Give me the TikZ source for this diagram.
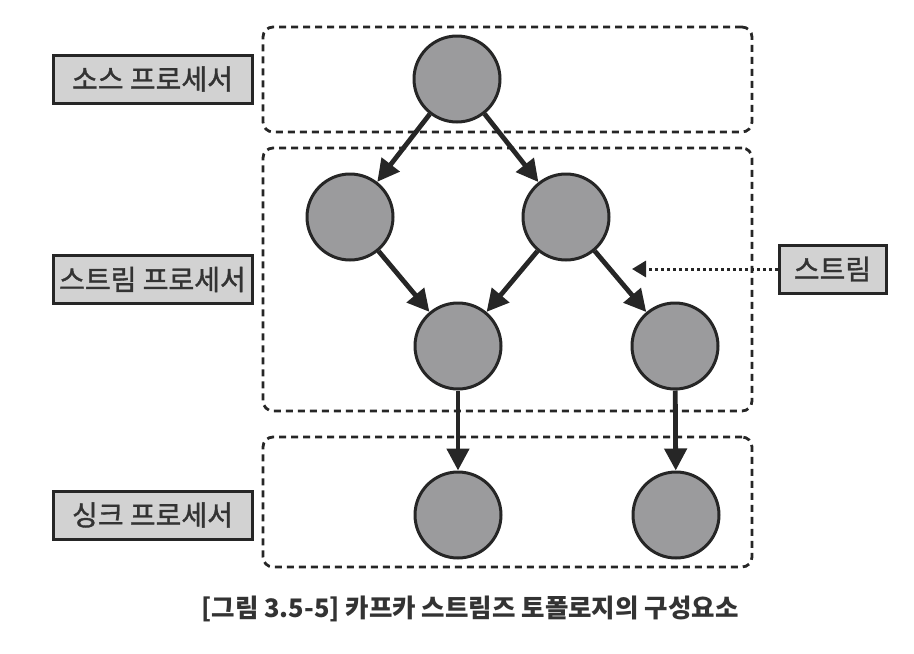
\documentclass[tikz,border=0pt]{standalone}
\usepackage{fontspec}
\setmainfont{Noto Sans CJK KR}
\newfontfamily\krmed{Noto Sans CJK KR}[FakeBold=1.3]
\usetikzlibrary{arrows.meta}
\definecolor{nodefill}{HTML}{9B9B9D}
\definecolor{labfill}{HTML}{D2D2D2}
\definecolor{ink}{HTML}{262626}
\definecolor{txt}{HTML}{333333}
\begin{document}
\begin{tikzpicture}[x=1pt,y=-1pt,
  proc/.style={circle,draw=ink,line width=3pt,fill=nodefill,minimum size=86pt,inner sep=0pt},
  labelbox/.style={rectangle,draw=ink,line width=3pt,fill=labfill,text=txt,minimum height=48pt,inner sep=0pt,font=\krmed\fontsize{28}{32}\selectfont},
  group/.style={rectangle,draw=ink,line width=2.8pt,dash pattern=on 7pt off 5pt,rounded corners=10pt,inner sep=0pt},
  flow/.style={draw=ink,line width=4.8pt,-{Triangle[length=22pt,width=22pt]}},
  streamflow/.style={draw=ink,line width=3pt,dash pattern=on 3pt off 3pt,-{Triangle[length=14pt,width=16pt]}}
]
\useasboundingbox (0,0) rectangle (914,654);
% groups
\node[group,minimum width=489pt,minimum height=105pt] (grpA) at (507.5,79.5) {};
\node[group,minimum width=489pt,minimum height=263pt] (grpB) at (507.5,279.5) {};
\node[group,minimum width=489pt,minimum height=130pt] (grpC) at (507.5,502) {};
% labels
\node[labelbox,minimum width=199pt] (lsrc) at (152.5,79) {소스 프로세서};
\node[labelbox,minimum width=199pt] (lstr) at (152.5,279.5) {스트림 프로세서};
\node[labelbox,minimum width=199pt] (lsnk) at (152.5,515) {싱크 프로세서};
\node[labelbox,minimum width=107pt] (lstream) at (832.5,269) {스트림};
% processors
\node[proc] (top) at (457,79) {};
\node[proc] (ml) at (350,217) {};
\node[proc] (mr) at (566,217) {};
\node[proc] (ll) at (458,346) {};
\node[proc] (lr) at (675,346) {};
\node[proc] (bl) at (458,515) {};
\node[proc] (br) at (676,515) {};
% connectors
\draw[flow] (top) -- (ml);
\draw[flow] (top) -- (mr);
\draw[flow] (ml) -- (ll);
\draw[flow] (mr) -- (ll);
\draw[flow] (mr) -- (lr);
\draw[flow] (ll) -- (bl);
\draw[flow] (lr) -- (br);
\coordinate (streamtip) at (632,269);
\draw[streamflow] (lstream.west) -- (streamtip);
% caption
\node[text=txt,font=\fontsize{25.5}{29}\selectfont\bfseries] (cap) at (470,609) {[그림 3.5-5] 카프카 스트림즈 토폴로지의 구성요소};
\end{tikzpicture}
\end{document}
